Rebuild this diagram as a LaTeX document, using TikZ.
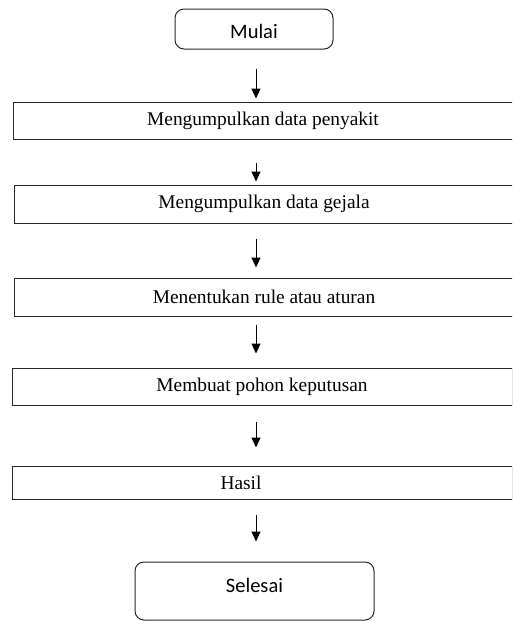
\documentclass[tikz,border=0pt]{standalone}
\usepackage{fontspec}
\setmainfont{Liberation Serif}
\newfontfamily\calib{Carlito}
\usetikzlibrary{arrows.meta}

\tikzset{
  stepbox/.style={draw=black!85,line width=1pt,minimum width=500pt,inner sep=0pt,
    font=\fontsize{19.4}{23}\selectfont},
  endbox/.style={draw=black!85,line width=1pt,rounded corners=9pt,inner sep=0pt,
    font=\calib\fontsize{20.5}{24}\selectfont},
  arr/.style={-{Triangle[length=10pt,width=9pt]},line width=1pt}
}

\begin{document}
\begin{tikzpicture}[x=1pt,y=-1pt]
\clip (0,0) rectangle (512,621);
\coordinate (ax) at (256,0);
% start and end
\node[endbox,minimum width=158pt,minimum height=40pt,text height=19pt] (mulai) at (254,29) {Mulai};
\node[endbox,minimum width=239pt,minimum height=58pt,text depth=12pt] (selesai) at (254.5,591) {Selesai};
% steps
\node[stepbox,minimum height=37pt] (data1) at (263,120.5) {Mengumpulkan data penyakit};
\node[stepbox,minimum height=38pt] (data2) at (264,204) {Mengumpulkan data gejala};
\node[stepbox,minimum height=38pt] (rule) at (264,297) {Menentukan rule atau aturan};
\node[stepbox,minimum height=37pt] (pohon) at (262,386.5) {Membuat pohon keputusan};
\node[stepbox,minimum height=33pt] (hasil) at (262,482.5) {Hasil\hspace*{42pt}};
% arrows
\draw[arr,shorten <=19pt,shorten >=3pt] (mulai.south -| ax) -- (data1.north -| ax);
\draw[arr,shorten <=23pt,shorten >=3pt] (data1.south -| ax) -- (data2.north -| ax);
\draw[arr,shorten <=15pt,shorten >=10pt] (data2.south -| ax) -- (rule.north -| ax);
\draw[arr,shorten <=8pt,shorten >=14pt] (rule.south -| ax) -- (pohon.north -| ax);
\draw[arr,shorten <=16pt,shorten >=18pt] (pohon.south -| ax) -- (hasil.north -| ax);
\draw[arr,shorten <=15pt,shorten >=20pt] (hasil.south -| ax) -- (selesai.north -| ax);
\end{tikzpicture}
\end{document}
